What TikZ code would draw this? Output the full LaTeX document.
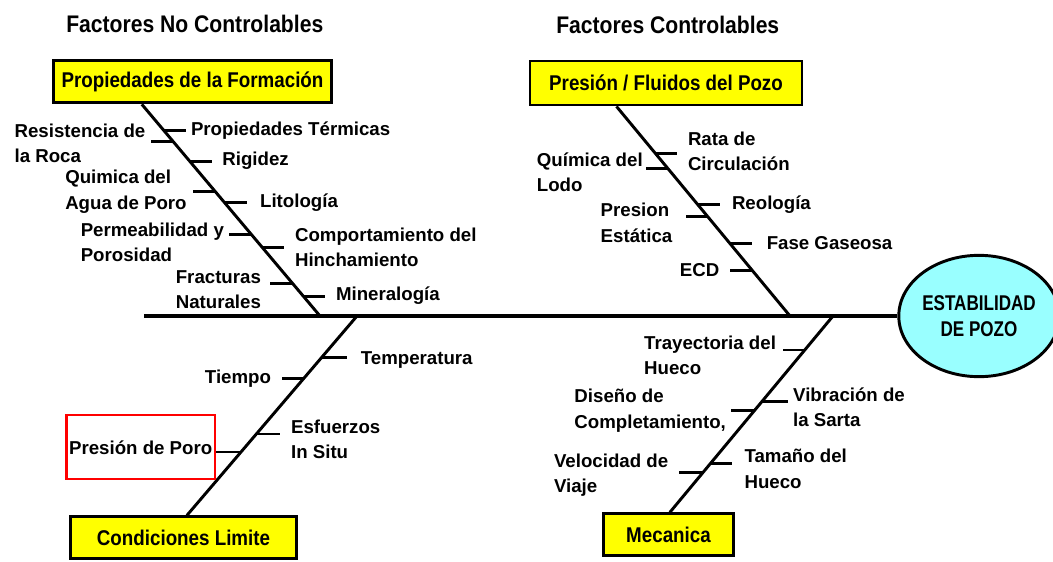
\documentclass[tikz,border=0pt]{standalone}
\usepackage{fontspec}
\setmainfont{Liberation Sans}
\newfontfamily\narrowfont{Liberation Sans}[FakeStretch=0.88]
\newfontfamily\ovalfont{Liberation Sans}[FakeStretch=0.8]
\usetikzlibrary{positioning,calc,shapes.geometric}
\definecolor{boxYellow}{HTML}{FFFF00}
\definecolor{ovalCyan}{HTML}{99FFFF}
\definecolor{markRed}{HTML}{FF0000}

\begin{document}
\begin{tikzpicture}[
  x=0.75pt, y=-0.75pt,
  cat/.style={draw, line width=2.2pt, fill=boxYellow, inner sep=0pt, font=\narrowfont\bfseries\fontsize{16}{19}\selectfont},
  lab/.style={align=left, inner sep=0pt, font=\bfseries\fontsize{14}{19}\selectfont},
  title/.style={anchor=west, inner sep=0pt, font=\narrowfont\bfseries\fontsize{18}{21}\selectfont},
  spine/.style={line width=3.2pt},
  bone/.style={line width=2.2pt},
  tick/.style={line width=2.2pt}
]
\useasboundingbox (0,0) rectangle (1053,561);

% titles
\node[title] (tnc) at (66,24) {Factores No Controlables};
\node[title] (tc) at (556,25) {Factores Controlables};

% categories and effect
\node[cat, minimum width=209pt, minimum height=32pt] (form) at (192.5,81.5) {Propiedades de la Formación};
\node[cat, minimum width=204pt, minimum height=33pt] (fluid) at (666,83) {Presión / Fluidos del Pozo};
\node[cat, minimum width=169pt, minimum height=31pt] (cond) at (183.5,537.5) {Condiciones Limite};
\node[cat, minimum width=97pt, minimum height=31pt] (mec) at (668.5,534.5) {Mecanica};
\node[ellipse, draw, line width=2.2pt, fill=ovalCyan, minimum width=111pt, minimum height=91pt, inner sep=0pt, align=center,
  font=\ovalfont\bfseries\fontsize{16}{20}\selectfont] (oval) at (979,316) {ESTABILIDAD\\DE POZO};

% spine and bones
\coordinate (tail) at (144,316);
\coordinate (j1) at (320,316);
\coordinate (j2) at (790,316);
\coordinate (j3) at (357,316);
\coordinate (j4) at (833,316);
\coordinate (fa) at ($(form.south west)!0.32!(form.south east)$);
\coordinate (pa) at ($(fluid.south west)!0.32!(fluid.south east)$);
\coordinate (ca) at ($(cond.north west)!0.515!(cond.north east)$);
\coordinate (ma) at ($(mec.north west)!0.51!(mec.north east)$);
\draw[spine] (tail) -- (oval.west);
\draw[bone] (fa) -- (j1);
\draw[bone] (pa) -- (j2);
\draw[bone] (j3) -- (ca);
\draw[bone] (j4) -- (ma);

% Propiedades de la Formacion
\draw[tick] ($(fa)!.122!(j1)$) -- ++(22,0) node[lab, right=3pt] (f1) {Propiedades Térmicas};
\draw[tick] ($(fa)!.174!(j1)$) -- ++(-22,0) node[lab, left=3pt, yshift=-1.5pt] (f2) {Resistencia de\\la Roca};
\draw[tick] ($(fa)!.268!(j1)$) -- ++(22,0) node[lab, right=7pt] (f3) {Rigidez};
\draw[tick] ($(fa)!.413!(j1)$) -- ++(-22,0) node[lab, left=4pt] (f4) {Quimica del\\Agua de Poro};
\draw[tick] ($(fa)!.465!(j1)$) -- ++(22,0) node[lab, right=9pt] (f5) {Litología};
\draw[tick] ($(fa)!.615!(j1)$) -- ++(-22,0) node[lab, left=3pt, yshift=-6pt] (f6) {Permeabilidad y\\Porosidad};
\draw[tick] ($(fa)!.676!(j1)$) -- ++(22,0) node[lab, right=7pt] (f7) {Comportamiento del\\Hinchamiento};
\draw[tick] ($(fa)!.845!(j1)$) -- ++(-22,0) node[lab, left=6pt, yshift=-5pt] (f8) {Fracturas\\Naturales};
\draw[tick] ($(fa)!.906!(j1)$) -- ++(22,0) node[lab, right=7pt] (f9) {Mineralogía};

% Presion / Fluidos del Pozo
\draw[tick] ($(pa)!.223!(j2)$) -- ++(22,0) node[lab, right=7pt, yshift=1.5pt] (p1) {Rata de\\Circulación};
\draw[tick] ($(pa)!.294!(j2)$) -- ++(-22,0) node[lab, left=1pt, yshift=-3pt] (p2) {Química del\\Lodo};
\draw[tick] ($(pa)!.469!(j2)$) -- ++(22,0) node[lab, right=8pt] (p3) {Reología};
\draw[tick] ($(pa)!.526!(j2)$) -- ++(-22,0) node[lab, left=9pt, yshift=-4.5pt] (p4) {Presion\\Estática};
\draw[tick] ($(pa)!.654!(j2)$) -- ++(22,0) node[lab, right=10pt] (p5) {Fase Gaseosa};
\draw[tick] ($(pa)!.782!(j2)$) -- ++(-22,0) node[lab, left=7pt] (p6) {ECD};

% Condiciones Limite
\draw[tick] ($(j3)!.209!(ca)$) -- ++(26,0) node[lab, right=9pt, yshift=-2pt] (c1) {Temperatura};
\draw[tick] ($(j3)!.313!(ca)$) -- ++(-22,0) node[lab, left=7pt] (c2) {Tiempo};
\draw[tick] ($(j3)!.592!(ca)$) -- ++(24,0) node[lab, right=7pt, yshift=-4pt] (c3) {Esfuerzos\\In Situ};
\draw[tick] ($(j3)!.682!(ca)$) -- ++(-25,0) node[lab, left=0pt, yshift=3.5pt, draw=markRed, line width=1.6pt,
  minimum height=48pt, inner xsep=2pt] (c4) {Presión de Poro};

% Mecanica
\draw[tick] ($(j4)!.173!(ma)$) -- ++(-22,0) node[lab, left=4pt, yshift=-4pt] (m1) {Trayectoria del\\Hueco};
\draw[tick] ($(j4)!.437!(ma)$) -- ++(26,0) node[lab, right=3pt, yshift=-4pt] (m2) {Vibración de\\la Sarta};
\draw[tick] ($(j4)!.482!(ma)$) -- ++(-23,0) node[lab, left=3pt] (m3) {Diseño de\\Completamiento,};
\draw[tick] ($(j4)!.751!(ma)$) -- ++(22,0) node[lab, right=8pt, yshift=-4pt] (m4) {Tamaño del\\Hueco};
\draw[tick] ($(j4)!.797!(ma)$) -- ++(-24,0) node[lab, left=7pt, yshift=-2pt] (m5) {Velocidad de\\Viaje};
\end{tikzpicture}
\end{document}
